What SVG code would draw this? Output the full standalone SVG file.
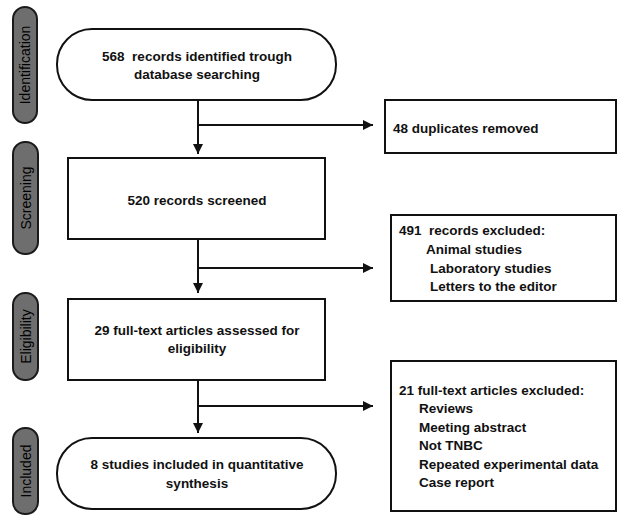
<svg xmlns="http://www.w3.org/2000/svg" width="632" height="527" viewBox="0 0 632 527">
<style>
.box{fill:#fff;stroke:#111;stroke-width:2}
.pill{fill:#6e6e6e;stroke:#1a1a1a;stroke-width:2}
.t{font-family:"Liberation Sans",Arial,sans-serif;font-size:13.5px;font-weight:bold;fill:#111}
.c{text-anchor:middle}
.side{font-family:"Liberation Sans",Arial,sans-serif;font-size:14px;fill:#000;text-anchor:middle}
.ln{fill:none;stroke:#111;stroke-width:2}
</style>
<defs>
<marker id="ah" viewBox="0 0 10 10" refX="10" refY="5" markerWidth="5" markerHeight="5" markerUnits="strokeWidth" orient="auto">
<path d="M0,0 L10,5 L0,10 z" fill="#111"/>
</marker>
</defs>
<rect width="632" height="527" fill="#fff"/>
<g id="phase-identification"><rect class="pill" x="13" y="7" width="24" height="116" rx="12"/><text class="side" transform="translate(30,65) rotate(-90)">Identification</text></g>
<g id="phase-screening"><rect class="pill" x="13" y="142" width="25" height="112" rx="12"/><text class="side" transform="translate(30.5,198) rotate(-90)">Screening</text></g>
<g id="phase-eligibility"><rect class="pill" x="13" y="293" width="25" height="87" rx="12"/><text class="side" transform="translate(30.5,336.5) rotate(-90)">Eligibility</text></g>
<g id="phase-included"><rect class="pill" x="13" y="428" width="25" height="86" rx="12"/><text class="side" transform="translate(30.5,471) rotate(-90)">Included</text></g>
<g id="connectors">
<path class="ln" d="M198,100 V154" marker-end="url(#ah)"/>
<path class="ln" d="M198,125 H373" marker-end="url(#ah)"/>
<path class="ln" d="M198,239 V293" marker-end="url(#ah)"/>
<path class="ln" d="M198,268 H373" marker-end="url(#ah)"/>
<path class="ln" d="M198,380 V433" marker-end="url(#ah)"/>
<path class="ln" d="M198,406 H373" marker-end="url(#ah)"/>
</g>
<g id="identified"><rect class="box" x="57" y="29" width="279" height="71" rx="35"/>
<text class="t c" x="197" y="61" xml:space="preserve">568  records identified trough</text>
<text class="t c" x="197" y="79">database searching</text></g>
<g id="duplicates"><rect class="box" x="385" y="100" width="231" height="53"/>
<text class="t" x="393" y="133">48 duplicates removed</text></g>
<g id="screened"><rect class="box" x="68" y="158" width="257" height="81"/>
<text class="t c" x="197" y="205">520 records screened</text></g>
<g id="excluded-records"><rect class="box" x="391" y="215" width="225" height="86"/>
<text class="t" x="399" y="235" xml:space="preserve">491  records excluded:</text>
<text class="t" x="426" y="254">Animal studies</text>
<text class="t" x="430" y="273">Laboratory studies</text>
<text class="t" x="430" y="291">Letters to the editor</text></g>
<g id="eligibility"><rect class="box" x="68" y="299" width="257" height="81"/>
<text class="t c" x="197" y="335">29 full-text articles assessed for</text>
<text class="t c" x="197" y="353">eligibility</text></g>
<g id="excluded-articles"><rect class="box" x="391" y="361" width="225" height="150"/>
<text class="t" x="399" y="395">21 full-text articles excluded:</text>
<text class="t" x="419" y="413">Reviews</text>
<text class="t" x="419" y="432">Meeting abstract</text>
<text class="t" x="419" y="450">Not TNBC</text>
<text class="t" x="419" y="469">Repeated experimental data</text>
<text class="t" x="419" y="487">Case report</text></g>
<g id="included"><rect class="box" x="57" y="438" width="279" height="71" rx="35"/>
<text class="t c" x="197" y="469">8 studies included in quantitative</text>
<text class="t c" x="197" y="488">synthesis</text></g>
</svg>
